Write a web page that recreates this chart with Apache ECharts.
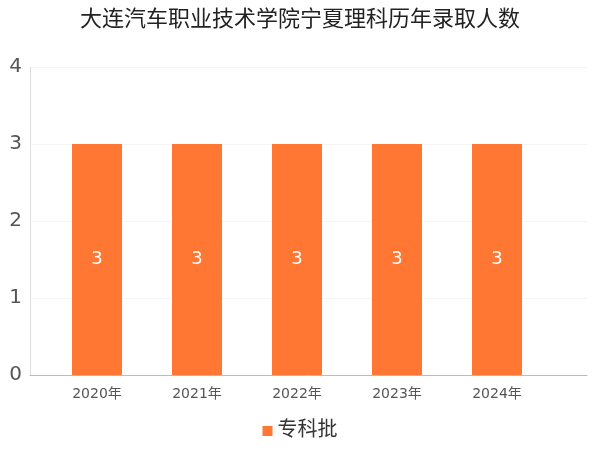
<!DOCTYPE html>
<html>
<head>
<meta charset="utf-8">
<script src="https://cdn.jsdelivr.net/npm/echarts@6/dist/echarts.min.js"></script>
<style>html,body{margin:0;padding:0;}#main{width:600px;height:450px;}</style>
</head>
<body>
<div id="main"></div>
<script>
var years = ['2020年', '2021年', '2022年', '2023年', '2024年'];
var counts = [3, 3, 3, 3, 3];
var yTicks = [0, 1, 2, 3, 4];

var font = "'DejaVu Sans', 'Noto Sans CJK SC', sans-serif";
var chart = echarts.init(document.getElementById('main'));
chart.setOption({
	textStyle: { fontFamily: font },
	title: {
		text: '大连汽车职业技术学院宁夏理科历年录取人数',
		left: 'center',
		top: 4,
		textStyle: { fontSize: 22, fontWeight: 'normal', color: '#222', fontFamily: font }
	},
	legend: {
		data: ['专科批'],
		bottom: 4,
		itemWidth: 10,
		itemHeight: 10,
		icon: 'rect',
		textStyle: { fontSize: 20, color: '#333', fontFamily: font }
	},
	grid: [
		{ left: 30, right: 13, top: 67, bottom: 75 },
		{ left: 47, right: 53, top: 67, bottom: 75 }
	],
	xAxis: [{
		type: 'category',
		gridIndex: 0,
		data: [''],
		axisLine: { lineStyle: { color: '#bbb' } },
		axisTick: { show: false },
		axisLabel: { show: false }
	}, {
		type: 'category',
		gridIndex: 1,
		data: years,
		axisLine: { show: false },
		axisTick: { show: false },
		axisLabel: { fontSize: 14, color: '#555', margin: 12, fontFamily: font }
	}],
	yAxis: [{
		type: 'value',
		gridIndex: 0,
		min: yTicks[0],
		max: yTicks[yTicks.length - 1],
		interval: 1,
		axisLine: { show: true, lineStyle: { color: '#ddd' } },
		axisLabel: { fontSize: 20, color: '#555', margin: 8, fontFamily: font },
		splitLine: { lineStyle: { color: '#f5f5f5' } }
	}, {
		type: 'value',
		gridIndex: 1,
		min: yTicks[0],
		max: yTicks[yTicks.length - 1],
		interval: 1,
		show: false
	}],
	series: [{
		name: '专科批',
		type: 'bar',
		xAxisIndex: 1,
		yAxisIndex: 1,
		data: counts,
		barWidth: '50%',
		itemStyle: { color: '#FF7733' },
		label: { show: true, position: 'inside', color: '#fff', fontSize: 18, fontFamily: font }
	}]
});
</script>
</body>
</html>
